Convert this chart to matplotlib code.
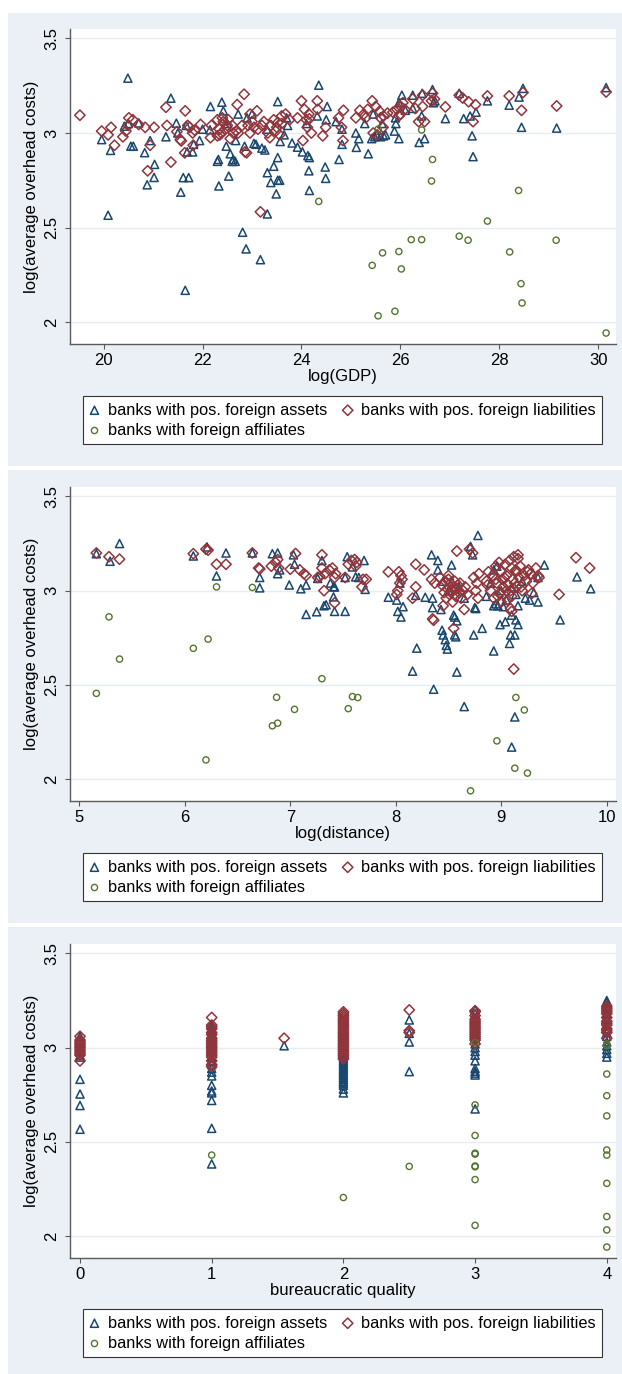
import matplotlib.pyplot as plt
from matplotlib.patches import Rectangle

plt.rcParams['font.family'] = ['Liberation Sans', 'DejaVu Sans']

# ---- panel 1: log(GDP)
gdp_assets_x = [20.49, 19.96, 20.14, 20.09, 20.42, 20.55, 20.60, 20.71, 20.83, 20.88, 20.94, 21.02, 21.03,
                21.26, 21.36, 21.47, 21.56, 21.61, 21.72, 21.65, 21.67, 21.69, 21.80, 21.82, 21.94, 22.16,
                22.15, 22.30, 22.32, 22.33, 22.39, 22.42, 22.48, 22.53, 22.56, 22.62, 22.60, 22.66, 22.67,
                22.72, 22.81, 22.88, 22.85, 23.04, 23.08, 23.17, 23.20, 23.26, 23.31, 23.31, 23.38, 23.44,
                23.49, 23.52, 23.52, 23.56, 23.52, 23.57, 23.65, 23.72, 23.81, 23.92, 24.02, 24.13, 24.16,
                24.15, 24.16, 24.35, 24.32, 24.48, 24.49, 24.52, 24.50, 24.76, 24.82, 24.82, 25.10, 25.11,
                25.16, 25.28, 25.35, 25.42, 25.48, 25.52, 25.60, 25.66, 25.70, 25.45, 25.63, 25.88, 25.91,
                25.97, 25.97, 26.03, 26.25, 26.25, 26.38, 26.49, 26.43, 26.44, 26.65, 26.67, 26.70, 26.91,
                27.19, 27.28, 27.41, 27.45, 27.47, 27.53, 27.76, 28.20, 28.40, 28.45, 28.48, 29.16, 30.16,
                22.50, 22.90, 23.30, 23.70, 24.10, 24.70, 22.00, 21.50, 20.50, 23.00, 25.90, 26.10]
gdp_assets_y = [3.290, 2.965, 2.908, 2.565, 3.036, 2.930, 2.930, 3.053, 2.896, 2.726, 2.960, 2.765, 2.834,
                2.980, 3.184, 3.052, 2.687, 2.764, 2.764, 2.168, 3.040, 2.900, 2.900, 2.940, 2.960, 3.140,
                3.017, 2.850, 2.860, 2.720, 3.163, 3.117, 2.930, 2.772, 2.890, 2.860, 2.850, 2.850, 2.960,
                3.100, 2.475, 2.387, 2.930, 2.945, 2.940, 2.330, 2.920, 2.910, 2.572, 2.790, 2.738, 2.824,
                2.678, 3.166, 2.750, 2.750, 2.870, 2.955, 2.990, 3.040, 2.947, 2.925, 2.900, 2.880, 2.870,
                2.800, 2.696, 3.253, 3.090, 2.820, 2.760, 3.140, 3.070, 2.860, 2.940, 3.020, 3.000, 2.924,
                2.970, 3.050, 2.890, 2.970, 2.980, 2.990, 2.980, 2.985, 2.990, 3.100, 3.050, 3.010, 3.050,
                2.970, 3.160, 3.200, 3.200, 3.130, 2.950, 2.970, 3.090, 3.210, 3.230, 3.160, 3.170, 3.076,
                3.210, 3.076, 3.090, 2.985, 2.875, 3.110, 3.170, 3.147, 3.190, 3.030, 3.236, 3.026, 3.240,
                3.050, 3.080, 3.020, 3.080, 3.050, 3.060, 3.020, 3.000, 3.050, 3.100, 3.080, 3.120]

gdp_liab_x = [19.52, 19.96, 20.09, 20.15, 20.22, 20.39, 20.45, 20.50, 20.51, 20.59, 20.71, 20.84, 20.89,
              20.94, 21.02, 21.28, 21.26, 21.36, 21.48, 21.55, 21.57, 21.65, 21.70, 21.74, 21.64, 21.80,
              21.84, 21.81, 21.96, 22.16, 22.18, 22.30, 22.34, 22.38, 22.42, 22.46, 22.50, 22.52, 22.30,
              22.35, 22.56, 22.62, 22.68, 22.72, 22.70, 22.84, 22.86, 22.89, 22.80, 22.92, 22.96, 23.04,
              23.12, 22.96, 23.10, 23.17, 23.24, 23.32, 23.38, 23.44, 23.48, 23.52, 23.60, 23.68, 23.76,
              23.36, 23.56, 23.92, 24.00, 24.06, 24.10, 24.12, 24.16, 24.20, 24.03, 24.32, 24.33, 24.43,
              24.49, 24.75, 24.81, 24.84, 24.85, 25.10, 25.18, 25.26, 25.34, 25.43, 25.50, 25.58, 25.66,
              25.74, 25.45, 25.53, 25.65, 25.85, 25.93, 25.97, 26.01, 26.05, 26.09, 26.25, 26.30, 26.37,
              26.45, 26.49, 26.45, 26.65, 26.69, 26.63, 26.91, 27.19, 27.26, 27.38, 27.47, 27.52, 27.76,
              28.20, 28.45, 28.48, 29.16, 30.16, 22.40, 22.60, 23.00, 23.20, 23.60, 23.50, 24.15, 25.30,
              25.60, 26.00]
gdp_liab_y = [3.094, 3.010, 2.990, 3.030, 2.935, 2.980, 3.010, 3.040, 3.080, 3.070, 3.045, 3.030, 2.800,
              2.935, 3.030, 3.040, 3.136, 2.846, 3.007, 2.965, 2.958, 3.117, 3.040, 3.030, 2.895, 3.000,
              3.015, 2.935, 3.045, 2.975, 3.040, 3.070, 3.020, 3.000, 3.060, 3.020, 3.040, 3.070, 2.985,
              2.990, 2.970, 3.000, 3.010, 3.000, 3.150, 3.205, 2.900, 2.895, 3.040, 3.040, 3.000, 3.030,
              3.020, 3.100, 3.117, 2.583, 3.060, 3.000, 3.040, 3.070, 3.010, 3.055, 3.090, 3.100, 3.070,
              2.975, 2.990, 3.080, 3.170, 3.125, 3.070, 3.030, 3.075, 3.000, 2.960, 3.170, 3.125, 2.985,
              3.030, 3.080, 3.030, 2.960, 3.120, 3.080, 3.120, 3.100, 3.125, 3.170, 3.140, 3.115, 3.090,
              3.105, 3.000, 2.990, 3.030, 3.110, 3.125, 3.090, 3.140, 3.160, 3.125, 3.180, 3.130, 3.060,
              3.140, 3.060, 3.200, 3.210, 3.180, 3.170, 3.138, 3.200, 3.185, 3.165, 3.060, 3.150, 3.196,
              3.196, 3.120, 3.214, 3.143, 3.217, 3.080, 3.040, 3.060, 3.040, 3.050, 3.030, 3.100, 3.080,
              3.080, 3.100]

gdp_affil_x = [24.35, 25.43, 25.55, 25.55, 25.64, 25.89, 25.97, 26.02, 26.22, 26.43, 26.43, 26.65, 26.63,
               27.19, 27.37, 27.76, 28.21, 28.39, 28.44, 28.46, 29.15, 30.16]
gdp_affil_y = [2.638, 2.300, 3.020, 2.033, 2.366, 2.057, 2.373, 2.281, 2.436, 2.436, 3.016, 2.860, 2.746,
               2.454, 2.433, 2.534, 2.371, 2.696, 2.203, 2.101, 2.433, 1.942]

# ---- panel 2: log(distance)
dist_assets_x = [5.16, 5.29, 5.38, 6.08, 6.21, 6.30, 6.39, 6.64, 6.71, 6.71, 6.83, 6.88, 6.88, 6.90, 6.99,
                 7.03, 7.04, 7.10, 7.15, 7.15, 7.26, 7.25, 7.30, 7.32, 7.34, 7.38, 7.41, 7.42, 7.41, 7.42,
                 7.52, 7.54, 7.59, 7.62, 7.65, 7.70, 7.71, 7.52, 7.93, 8.01, 8.02, 8.05, 8.07, 8.04, 8.16,
                 8.20, 8.19, 8.28, 8.34, 8.36, 8.40, 8.40, 8.35, 8.35, 8.43, 8.44, 8.45, 8.47, 8.48, 8.49,
                 8.53, 8.55, 8.56, 8.58, 8.57, 8.56, 8.58, 8.65, 8.71, 8.73, 8.78, 8.74, 8.75, 8.76, 8.82,
                 8.93, 8.93, 8.95, 8.97, 8.99, 9.02, 9.04, 9.05, 9.08, 9.09, 9.10, 9.13, 9.14, 9.16, 9.16,
                 9.10, 9.13, 9.14, 9.23, 9.27, 9.31, 9.35, 9.35, 9.41, 9.56, 9.72, 9.85, 8.86, 8.93, 8.96,
                 8.50, 8.60, 8.65, 8.90, 9.00, 9.20, 8.45, 9.10]
dist_assets_y = [3.196, 3.156, 3.250, 3.184, 3.232, 3.078, 3.200, 3.200, 3.070, 3.015, 3.196, 3.200, 3.090,
                 3.110, 3.030, 3.190, 3.140, 3.010, 2.874, 3.030, 3.065, 2.888, 3.160, 2.920, 2.925, 3.040,
                 3.020, 3.020, 2.967, 2.890, 2.890, 3.180, 3.126, 3.073, 3.070, 3.160, 3.007, 3.070, 2.965,
                 2.950, 2.890, 2.860, 2.915, 3.040, 2.573, 2.695, 2.975, 2.965, 3.190, 2.477, 3.160, 3.110,
                 2.960, 2.910, 2.900, 2.790, 2.765, 2.740, 2.710, 2.690, 3.136, 2.870, 2.860, 2.840, 2.755,
                 2.765, 2.568, 2.385, 3.235, 3.190, 3.293, 2.765, 2.910, 2.905, 2.800, 2.680, 2.920, 2.930,
                 2.920, 2.820, 2.915, 2.835, 2.950, 2.720, 2.765, 2.870, 2.765, 2.845, 2.820, 2.920, 2.170,
                 2.330, 2.980, 2.960, 2.950, 2.990, 2.940, 3.070, 3.136, 2.845, 3.073, 3.010, 2.970, 3.110,
                 3.130, 3.000, 3.020, 2.960, 3.040, 3.000, 3.050, 3.050, 3.020]

dist_liab_x = [5.16, 5.28, 5.38, 6.08, 6.20, 6.22, 6.30, 6.39, 6.64, 6.70, 6.71, 6.82, 6.86, 6.88, 6.89,
               7.00, 7.05, 7.09, 7.13, 7.15, 7.26, 7.28, 7.30, 7.30, 7.33, 7.32, 7.37, 7.40, 7.42, 7.43,
               7.42, 7.52, 7.55, 7.58, 7.61, 7.63, 7.62, 7.68, 7.69, 7.72, 7.93, 8.01, 8.03, 8.05, 8.04,
               8.06, 8.02, 8.16, 8.19, 8.19, 8.27, 8.34, 8.37, 8.35, 8.36, 8.42, 8.44, 8.46, 8.47, 8.48,
               8.49, 8.50, 8.51, 8.52, 8.53, 8.54, 8.55, 8.56, 8.57, 8.58, 8.59, 8.60, 8.61, 8.62, 8.64,
               8.66, 8.68, 8.45, 8.55, 8.50, 8.58, 8.65, 8.70, 8.73, 8.74, 8.76, 8.77, 8.78, 8.79, 8.86,
               8.88, 8.90, 8.92, 8.93, 8.95, 8.96, 8.98, 8.99, 9.00, 9.01, 9.02, 9.04, 9.05, 9.06, 9.07,
               9.08, 9.09, 9.10, 9.11, 9.12, 9.13, 9.14, 9.15, 9.16, 9.17, 9.18, 9.20, 9.22, 9.24, 9.26,
               9.28, 9.30, 9.33, 9.36, 8.95, 9.00, 9.05, 9.10, 9.09, 9.10, 9.12, 9.12, 9.16, 9.25, 9.29,
               9.35, 9.55, 9.71, 9.84, 8.87, 8.97, 9.03, 9.14, 9.19]
dist_liab_y = [3.200, 3.180, 3.167, 3.196, 3.220, 3.215, 3.140, 3.140, 3.200, 3.120, 3.115, 3.130, 3.150,
               3.165, 3.120, 3.114, 3.197, 3.110, 3.090, 3.080, 3.070, 3.075, 3.190, 3.120, 3.090, 3.000,
               3.110, 3.120, 3.070, 3.090, 2.935, 3.070, 3.140, 3.160, 3.165, 3.150, 3.130, 3.020, 3.060,
               3.060, 3.100, 2.980, 3.100, 3.080, 3.040, 3.060, 3.000, 2.960, 3.020, 3.140, 3.110, 3.060,
               3.040, 2.850, 2.843, 3.070, 3.030, 2.990, 3.050, 2.960, 3.010, 3.060, 2.980, 3.040, 3.000,
               2.940, 3.020, 3.050, 2.970, 3.010, 3.030, 2.990, 3.040, 2.960, 3.000, 3.020, 2.980, 2.920,
               2.800, 3.080, 3.210, 2.900, 3.220, 3.200, 3.070, 3.000, 3.040, 2.960, 3.090, 3.050, 3.100,
               3.000, 3.080, 2.960, 3.130, 3.040, 3.150, 2.990, 3.100, 3.060, 3.020, 3.140, 3.080, 2.950,
               3.030, 3.160, 3.000, 3.120, 3.060, 3.180, 3.040, 3.100, 3.020, 3.190, 3.070, 3.130, 3.000,
               3.080, 3.050, 3.110, 3.090, 3.040, 3.120, 3.070, 3.060, 2.940, 3.000, 2.970, 2.905, 2.890,
               3.010, 2.584, 3.170, 3.100, 2.985, 3.080, 2.980, 3.175, 3.120, 3.030, 2.970, 3.070, 3.110,
               3.020]

dist_affil_x = [5.16, 5.28, 5.38, 6.08, 6.20, 6.22, 6.30, 6.64, 6.83, 6.87, 6.88, 7.04, 7.30, 7.55, 7.59,
                7.64, 8.71, 8.96, 9.13, 9.14, 9.22, 9.25]
dist_affil_y = [2.455, 2.861, 2.637, 2.694, 2.102, 2.743, 3.020, 3.017, 2.283, 2.434, 2.297, 2.370, 2.533,
                2.374, 2.438, 2.433, 1.938, 2.203, 2.058, 2.433, 2.367, 2.032]

# ---- panel 3: bureaucratic quality
bq_assets_x = [0, 0, 0, 0, 0, 0, 0, 0, 0, 0,
               1, 1, 1, 1, 1, 1, 1, 1, 1, 1, 1, 1, 1, 1, 1, 1, 1, 1, 1,
               1.55,
               2, 2, 2, 2, 2, 2, 2, 2, 2, 2, 2, 2, 2, 2, 2, 2, 2, 2, 2, 2, 2, 2,
               2.5, 2.5, 2.5, 2.5,
               3, 3, 3, 3, 3, 3, 3, 3, 3, 3, 3, 3, 3, 3, 3, 3, 3,
               4, 4, 4, 4, 4, 4, 4, 4, 4, 4, 4, 4, 4, 4, 4]
bq_assets_y = [3.06, 3.04, 3.00, 2.98, 2.96, 2.95, 2.832, 2.754, 2.693, 2.567,
               3.12, 3.10, 3.08, 3.05, 3.02, 3.00, 2.98, 2.95, 2.93, 2.91, 2.89, 2.87, 2.85, 2.80, 2.77,
               2.76, 2.72, 2.572, 2.383,
               3.01,
               3.00, 2.98, 2.97, 2.96, 2.95, 2.94, 2.93, 2.92, 2.91, 2.90, 2.89, 2.88, 2.87, 2.86, 2.85,
               2.84, 2.83, 2.82, 2.81, 2.80, 2.78, 2.76,
               3.147, 3.076, 3.03, 2.873,
               3.20, 3.18, 3.15, 3.12, 3.10, 3.07, 3.05, 3.02, 3.00, 2.98, 2.96, 2.93, 2.89, 2.875, 2.865,
               2.855, 2.675,
               3.25, 3.24, 3.22, 3.20, 3.18, 3.15, 3.12, 3.10, 3.08, 3.06, 3.03, 3.01, 2.99, 2.97, 2.95]

bq_liab_x = [0, 0, 0, 0, 0, 0, 0, 0, 0, 0, 0,
             1, 1, 1, 1, 1, 1, 1, 1, 1, 1, 1, 1, 1, 1, 1, 1, 1, 1, 1, 1,
             1.55,
             2, 2, 2, 2, 2, 2, 2, 2, 2, 2, 2, 2, 2, 2, 2, 2, 2, 2, 2, 2, 2, 2, 2, 2, 2, 2,
             2.5, 2.5, 2.5,
             3, 3, 3, 3, 3, 3, 3, 3, 3, 3, 3, 3, 3, 3, 3, 3,
             4, 4, 4, 4, 4, 4, 4, 4, 4, 4, 4, 4, 4]
bq_liab_y = [3.06, 3.04, 3.03, 3.02, 3.01, 3.00, 2.99, 2.98, 2.97, 2.96, 2.93,
             3.16, 3.12, 3.11, 3.10, 3.08, 3.07, 3.05, 3.04, 3.03, 3.02, 3.01, 3.00, 2.99, 2.98, 2.97,
             2.96, 2.95, 2.93, 2.91, 2.90,
             3.05,
             3.19, 3.18, 3.17, 3.16, 3.15, 3.14, 3.13, 3.12, 3.11, 3.10, 3.09, 3.08, 3.07, 3.06, 3.05,
             3.04, 3.03, 3.02, 3.01, 3.00, 2.99, 2.98, 2.97, 2.96, 2.95, 2.94,
             3.20, 3.09, 3.08,
             3.196, 3.19, 3.17, 3.15, 3.14, 3.13, 3.12, 3.11, 3.10, 3.09, 3.08, 3.07, 3.06, 3.05, 3.04,
             3.02,
             3.22, 3.21, 3.20, 3.19, 3.18, 3.16, 3.14, 3.13, 3.12, 3.10, 3.09, 3.08, 3.05]

bq_affil_x = [1, 2, 2.5, 3, 3, 3, 3, 3, 3, 3, 3, 3, 4, 4, 4, 4, 4, 4, 4, 4, 4, 4, 4]
bq_affil_y = [2.43, 2.205, 2.37, 3.027, 2.696, 2.534, 2.44, 2.435, 2.372, 2.368, 2.30, 2.057,
              3.02, 3.01, 2.86, 2.745, 2.638, 2.457, 2.43, 2.28, 2.104, 2.033, 1.942]

labels = ['banks with pos. foreign assets', 'banks with pos. foreign liabilities',
          'banks with foreign affiliates']

navy = '#1A476F'
maroon = '#90353B'
green = '#55752F'
bg = '#EAF0F5'
axcol = '#5A5A5A'

W, H = 622, 1374
fig = plt.figure(figsize=(W / 100, H / 100), dpi=100)


def fbox(l, t, r, b):
    return [l / W, 1 - b / H, (r - l) / W, (b - t) / H]


panels = [
    dict(top=13, bot=466, ax_t=29, ax_b=344, leg_t=396, leg_b=446,
         xs=(gdp_assets_x, gdp_liab_x, gdp_affil_x), ys=(gdp_assets_y, gdp_liab_y, gdp_affil_y),
         xlim=(19.32, 30.36), xticks=[20, 22, 24, 26, 28, 30], xlabel='log(GDP)'),
    dict(top=470, bot=923, ax_t=487, ax_b=801, leg_t=853, leg_b=903,
         xs=(dist_assets_x, dist_liab_x, dist_affil_x), ys=(dist_assets_y, dist_liab_y, dist_affil_y),
         xlim=(4.91, 10.09), xticks=[5, 6, 7, 8, 9, 10], xlabel='log(distance)'),
    dict(top=927, bot=1374, ax_t=944, ax_b=1258, leg_t=1309, leg_b=1360,
         xs=(bq_assets_x, bq_liab_x, bq_affil_x), ys=(bq_assets_y, bq_liab_y, bq_affil_y),
         xlim=(-0.076, 4.07), xticks=[0, 1, 2, 3, 4], xlabel='bureaucratic quality'),
]

for p in panels:
    fig.patches.append(Rectangle((8 / W, 1 - p['bot'] / H), 614 / W, (p['bot'] - p['top']) / H,
                                 transform=fig.transFigure, facecolor=bg, edgecolor='none', zorder=-10))
    ax = fig.add_axes(fbox(70, p['ax_t'], 616, p['ax_b']))
    ax.set_zorder(1)
    ax.set_facecolor('white')
    ax.set_xlim(*p['xlim'])
    ax.set_ylim(1.884, 3.55)
    ax.set_yticks([2, 2.5, 3, 3.5])
    ax.set_yticklabels(['2', '2.5', '3', '3.5'])
    ax.set_xticks(p['xticks'])
    ax.grid(axis='y', color='#E6ECF1', lw=1.0)
    ax.set_axisbelow(True)
    for s in ['top', 'right']:
        ax.spines[s].set_visible(False)
    for s in ['left', 'bottom']:
        ax.spines[s].set_color(axcol)
        ax.spines[s].set_linewidth(1.0)
    ax.tick_params(direction='out', length=3.5, width=0.8, color=axcol, labelsize=12,
                   labelcolor='black', pad=3)
    ax.tick_params(axis='y', labelrotation=90, pad=4)
    for lab in ax.get_yticklabels():
        lab.set_va('center')

    xa, xl, xc = p['xs']
    ya, yl, yc = p['ys']
    h1 = ax.scatter(xa, ya, marker='^', s=34, facecolors='none', edgecolors=navy, linewidths=1.1)
    h2 = ax.scatter(xl, yl, marker='D', s=28, facecolors='none', edgecolors=maroon, linewidths=1.1)
    h3 = ax.scatter(xc, yc, marker='o', s=20, facecolors='none', edgecolors=green, linewidths=1.0)

    ax.set_xlabel(p['xlabel'], fontsize=12, labelpad=1)
    ax.set_ylabel('log(average overhead costs)', fontsize=12, labelpad=4)

    leg = ax.legend([h1, h3, h2], [labels[0], labels[2], labels[1]], ncol=2, mode='expand',
                    loc='upper left',
                    bbox_to_anchor=(83 / W, 1 - p['leg_b'] / H, 519 / W, (p['leg_b'] - p['leg_t']) / H),
                    bbox_transform=fig.transFigure, borderaxespad=0, fontsize=11.8,
                    frameon=True, fancybox=False, edgecolor='#333333', framealpha=1,
                    handlelength=0.6, handletextpad=0.5, borderpad=0.4, labelspacing=0.32,
                    scatterpoints=1)
    leg.get_frame().set_linewidth(0.8)

plt.savefig('out.png', dpi=100, facecolor='white')
